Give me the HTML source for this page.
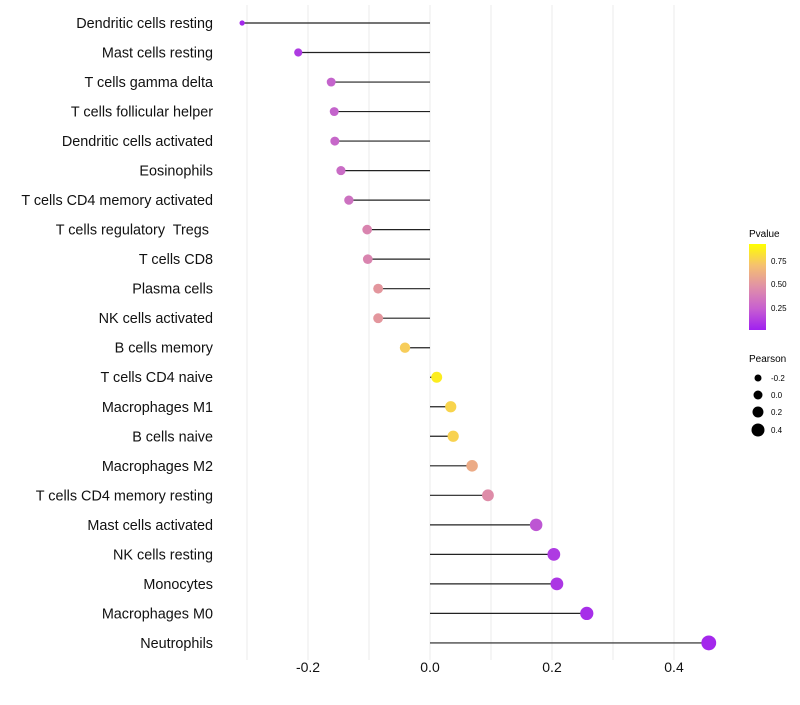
<!DOCTYPE html>
<html><head><meta charset="utf-8"><style>
body{margin:0;background:#fff;font-family:"Liberation Sans",sans-serif}
svg text{font-family:"Liberation Sans",sans-serif;white-space:pre}
</style></head><body>
<svg id="chart" width="800" height="700">
<g id="grid"></g>
<g id="rows"></g>
<g id="xaxis"></g>
<g id="legend">
<defs><linearGradient id="pg" x1="0" y1="1" x2="0" y2="0">
<stop offset="0" stop-color="#A020F0"/><stop offset="0.25" stop-color="#C860D0"/><stop offset="0.5" stop-color="#E090A8"/><stop offset="0.75" stop-color="#F5C070"/><stop offset="1" stop-color="#FFFF00"/></linearGradient></defs>
<text x="749" y="237" font-size="10">Pvalue</text>
<rect x="749" y="244" width="17" height="86" fill="url(#pg)"/>
<text x="771" y="264" font-size="8">0.75</text>
<text x="771" y="287" font-size="8">0.50</text>
<text x="771" y="311" font-size="8">0.25</text>
<text x="749" y="362" font-size="10">Pearson</text>
<circle cx="758" cy="378" r="3.5" fill="#000"/>
<circle cx="758" cy="395" r="4.5" fill="#000"/>
<circle cx="758" cy="412" r="5.5" fill="#000"/>
<circle cx="758" cy="430" r="6.5" fill="#000"/>
<text x="771" y="381" font-size="8">-0.2</text>
<text x="771" y="398" font-size="8">0.0</text>
<text x="771" y="415" font-size="8">0.2</text>
<text x="771" y="433" font-size="8">0.4</text>
</g>
</svg>
<script>
const categories=["Dendritic cells resting","Mast cells resting","T cells gamma delta","T cells follicular helper","Dendritic cells activated","Eosinophils","T cells CD4 memory activated","T cells regulatory  Tregs ","T cells CD8","Plasma cells","NK cells activated","B cells memory","T cells CD4 naive","Macrophages M1","B cells naive","Macrophages M2","T cells CD4 memory resting","Mast cells activated","NK cells resting","Monocytes","Macrophages M0","Neutrophils"];
const pearson=[-0.308,-0.216,-0.162,-0.157,-0.156,-0.146,-0.133,-0.103,-0.102,-0.085,-0.085,-0.041,0.011,0.034,0.038,0.069,0.095,0.174,0.203,0.208,0.257,0.457];
const pvalue=[0.03,0.1,0.25,0.25,0.27,0.3,0.33,0.45,0.45,0.55,0.55,0.8,0.93,0.83,0.82,0.65,0.5,0.2,0.1,0.08,0.05,0.03];
const xTicks=[-0.2,0.0,0.2,0.4];
const xMinor=[-0.3,-0.1,0.1,0.3];
const NS="http://www.w3.org/2000/svg";
const x=v=>430+v*610;
const y=i=>23+i*29.52;
const rad=v=>{const r=Math.sqrt(Math.max(1.5,22.25+50*v));return v<-0.28?r:r+0.7;};
const stops=[[0,[160,32,240]],[0.25,[196,100,204]],[0.5,[222,140,168]],[0.75,[245,192,112]],[1,[255,255,0]]];
function col(p){for(let k=1;k<stops.length;k++){if(p<=stops[k][0]){const a=stops[k-1],b=stops[k],t=(p-a[0])/(b[0]-a[0]);return 'rgb('+a[1].map((c,j)=>Math.round(c+(b[1][j]-c)*t)).join(',')+')';}}return 'rgb(255,255,0)';}
function mk(t,at,par){const e=document.createElementNS(NS,t);for(const k in at)e.setAttribute(k,at[k]);par.appendChild(e);return e;}
const grid=document.getElementById('grid'),rows=document.getElementById('rows'),xa=document.getElementById('xaxis');
xTicks.concat(xMinor).forEach(v=>{const l=mk('line',{x1:x(v),x2:x(v),y1:5,y2:660,stroke:'#ebebeb','stroke-width':1},grid);

});
xTicks.forEach(v=>{const t=mk('text',{x:x(v),y:672,'font-size':14,'text-anchor':'middle',fill:'#111'},xa);t.textContent=v===0?'0.0':v.toFixed(1);

});
categories.forEach((c,i)=>{
const t=mk('text',{x:213,y:y(i)+5,'font-size':14.4,'text-anchor':'end',fill:'#111'},rows);t.textContent=c;


const l=mk('line',{x1:x(0),x2:x(pearson[i]),y1:y(i),y2:y(i),stroke:'#222','stroke-width':1.2},rows);


const d=mk('circle',{cx:x(pearson[i]),cy:y(i),r:rad(pearson[i]),fill:col(pvalue[i])},rows);


});
</script>
</body></html>
